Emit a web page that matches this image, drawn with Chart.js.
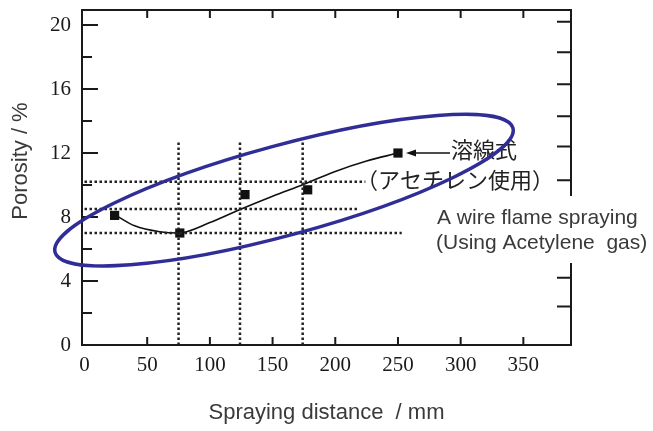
<!DOCTYPE html>
<html>
<head>
    <title>Porosity vs Spraying distance</title>
    <script src="https://cdn.jsdelivr.net/npm/chart.js"></script>
    <style>
        body {
            margin: 0;
            background-color: white;
        }
        .chart-container {
            position: relative;
            width: 653px;
            height: 431px;
        }
    </style>
</head>
<body>
    <div class="chart-container">
        <canvas id="porosityChart"></canvas>
    </div>

    <script>
        // measured points (black squares)
        const markerX = [24, 76, 128, 178, 250];
        const markerY = [8.1, 7.0, 9.4, 9.7, 12.0];

        // fitted curve
        const curveX = [25, 40, 60, 75, 100, 125, 150, 175, 200, 225, 250];
        const curveY = [8.1, 7.45, 7.08, 7.0, 7.65, 8.5, 9.3, 10.05, 10.85, 11.5, 12.0];

        // dotted guide lines
        const vGuideX = [75, 124, 174];
        const vGuideTop = [12.8, 12.8, 12.8];
        const hGuideY = [10.2, 8.5, 7.0];
        const hGuideEnd = [224, 218, 253];

        // axis ticks
        const xTicks = [0, 50, 100, 150, 200, 250, 300, 350];
        const yTicks = [0, 4, 8, 12, 16, 20];
        const yMinorTicks = [2, 6, 10, 14, 18];
        const rightTicks = [20.2, 18.3, 16.3, 14.3, 12.4, 10.3, 8.3, 6.3, 4.2, 2.4];

        // blue ellipse: tips of the long axis, in data units
        const ellipseLeftTip = [-23.5, 5.8];
        const ellipseRightTip = [341.7, 13.56];
        const ellipseRatio = 0.19;

        // arrow to the last point
        const arrowFrom = [291.5, 12.0];
        const arrowTo = [256.4, 12.0];

        const guideStyle = {
            borderColor: '#222',
            borderWidth: 2.5,
            borderDash: [2.5, 2.5],
            pointRadius: 0,
            fill: false
        };

        const datasets = [];
        vGuideX.forEach((x, i) => {
            datasets.push(Object.assign({
                data: [{x: x, y: 0}, {x: x, y: vGuideTop[i]}]
            }, guideStyle));
        });
        hGuideY.forEach((y, i) => {
            datasets.push(Object.assign({
                data: [{x: 0, y: y}, {x: hGuideEnd[i], y: y}]
            }, guideStyle));
        });
        datasets.push({
            data: curveX.map((x, i) => ({x: x, y: curveY[i]})),
            borderColor: '#111',
            borderWidth: 1.6,
            pointRadius: 0,
            cubicInterpolationMode: 'monotone',
            fill: false
        });
        datasets.push({
            data: markerX.map((x, i) => ({x: x, y: markerY[i]})),
            showLine: false,
            pointStyle: 'rect',
            pointRadius: 6.5,
            backgroundColor: '#111',
            borderColor: '#111',
            borderWidth: 0
        });

        const decorations = {
            id: 'decorations',
            afterDraw(chart) {
                const ctx = chart.ctx;
                const xs = chart.scales.x;
                const ys = chart.scales.y;
                const area = chart.chartArea;
                ctx.save();

                // frame
                ctx.strokeStyle = '#1a1a1a';
                ctx.lineWidth = 2;
                ctx.beginPath();
                ctx.moveTo(area.left, area.top);
                ctx.lineTo(area.right, area.top);
                ctx.lineTo(area.right, area.bottom);
                ctx.stroke();

                // inner tick marks
                ctx.beginPath();
                yTicks.forEach(v => {
                    const y = ys.getPixelForValue(v);
                    ctx.moveTo(area.left, y);
                    ctx.lineTo(area.left + 16, y);
                });
                yMinorTicks.forEach(v => {
                    const y = ys.getPixelForValue(v);
                    ctx.moveTo(area.left, y);
                    ctx.lineTo(area.left + 10, y);
                });
                rightTicks.forEach(v => {
                    const y = ys.getPixelForValue(v);
                    ctx.moveTo(area.right, y);
                    ctx.lineTo(area.right - 14, y);
                });
                xTicks.slice(1).forEach(v => {
                    const x = xs.getPixelForValue(v);
                    ctx.moveTo(x, area.bottom);
                    ctx.lineTo(x, area.bottom - 8);
                    ctx.moveTo(x, area.top);
                    ctx.lineTo(x, area.top + 8);
                });
                ctx.stroke();

                // y title
                ctx.fillStyle = '#3a3a3a';
                ctx.font = '22px "Liberation Sans", Arial, sans-serif';
                ctx.textAlign = 'center';
                ctx.textBaseline = 'middle';
                ctx.save();
                ctx.translate(21, 161);
                ctx.rotate(-Math.PI / 2);
                ctx.fillText('Porosity / %', 0, 0);
                ctx.restore();

                // english caption box covers the frame
                ctx.fillStyle = 'white';
                ctx.fillRect(430, 196, 223, 67);
                ctx.fillStyle = '#3a3a3a';
                ctx.textAlign = 'left';
                ctx.font = '21px "Liberation Sans", Arial, sans-serif';
                ctx.fillText('A wire flame spraying', 437, 218);
                ctx.fillText('(Using Acetylene  gas)', 436, 243);

                // japanese label
                ctx.fillStyle = '#222';
                ctx.font = '22px "Noto Sans CJK JP", sans-serif';
                ctx.fillText('溶線式', 451, 150);
                ctx.fillText('（アセチレン使用）', 356, 180);

                // arrow
                const ax0 = xs.getPixelForValue(arrowFrom[0]);
                const ay0 = ys.getPixelForValue(arrowFrom[1]);
                const ax1 = xs.getPixelForValue(arrowTo[0]);
                const ay1 = ys.getPixelForValue(arrowTo[1]);
                ctx.strokeStyle = '#111';
                ctx.lineWidth = 1.5;
                ctx.beginPath();
                ctx.moveTo(ax0, ay0);
                ctx.lineTo(ax1 + 6, ay1);
                ctx.stroke();
                ctx.fillStyle = '#111';
                ctx.beginPath();
                ctx.moveTo(ax1, ay1);
                ctx.lineTo(ax1 + 10, ay1 - 3.5);
                ctx.lineTo(ax1 + 10, ay1 + 3.5);
                ctx.closePath();
                ctx.fill();

                // blue ellipse
                const lx = xs.getPixelForValue(ellipseLeftTip[0]);
                const ly = ys.getPixelForValue(ellipseLeftTip[1]);
                const rx = xs.getPixelForValue(ellipseRightTip[0]);
                const ry = ys.getPixelForValue(ellipseRightTip[1]);
                const a = Math.hypot(rx - lx, ry - ly) / 2;
                ctx.strokeStyle = 'rgb(48, 46, 150)';
                ctx.lineWidth = 3.5;
                ctx.beginPath();
                ctx.ellipse((lx + rx) / 2, (ly + ry) / 2, a, a * ellipseRatio,
                    Math.atan2(ry - ly, rx - lx), 0, Math.PI * 2);
                ctx.stroke();

                ctx.restore();
            }
        };

        const tickFont = {family: '"Liberation Serif", "Times New Roman", serif', size: 21};

        new Chart(document.getElementById('porosityChart'), {
            type: 'line',
            data: {datasets: datasets},
            options: {
                responsive: true,
                maintainAspectRatio: false,
                animation: false,
                layout: {
                    padding: {top: 10, right: 82, bottom: 0, left: 0}
                },
                plugins: {
                    legend: {display: false},
                    tooltip: {enabled: false}
                },
                scales: {
                    x: {
                        type: 'linear',
                        min: -2,
                        max: 388,
                        grid: {display: false, drawTicks: false},
                        border: {display: true, color: '#1a1a1a', width: 2},
                        ticks: {font: tickFont, color: '#1a1a1a', padding: 8, maxRotation: 0},
                        afterBuildTicks: scale => {
                            scale.ticks = xTicks.map(v => ({value: v}));
                        },
                        afterFit: scale => {
                            scale.height = 86;
                            scale.paddingLeft = 0;
                            scale.paddingRight = 0;
                        },
                        title: {
                            display: true,
                            text: 'Spraying distance  / mm',
                            color: '#3a3a3a',
                            font: {family: '"Liberation Sans", Arial, sans-serif', size: 22},
                            padding: {top: 0, bottom: 5}
                        }
                    },
                    y: {
                        min: 0,
                        max: 20.94,
                        grid: {display: false, drawTicks: false},
                        border: {display: true, color: '#1a1a1a', width: 2},
                        ticks: {font: tickFont, color: '#1a1a1a', padding: 11},
                        afterBuildTicks: scale => {
                            scale.ticks = yTicks.map(v => ({value: v}));
                        },
                        afterFit: scale => {
                            scale.width = 82;
                            scale.paddingTop = 0;
                            scale.paddingBottom = 0;
                        }
                    }
                }
            },
            plugins: [decorations]
        });
    </script>
</body>
</html>
